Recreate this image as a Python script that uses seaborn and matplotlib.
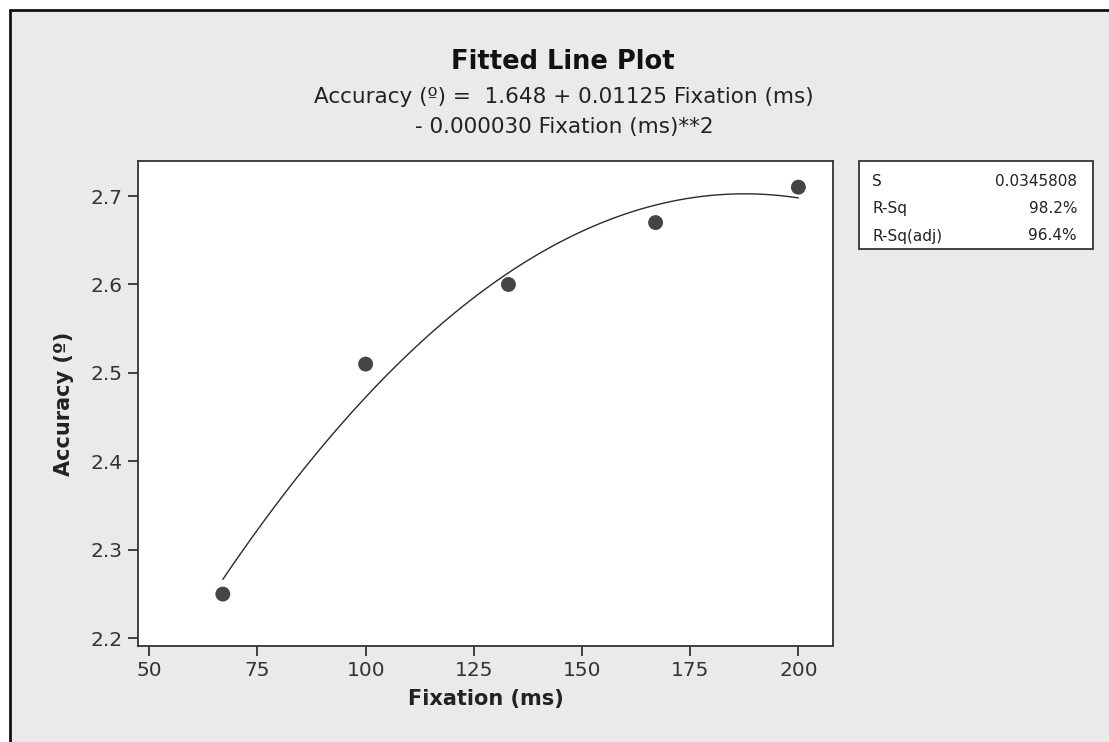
import numpy as np
import pandas as pd
import matplotlib
matplotlib.use("Agg")
import matplotlib.pyplot as plt
import seaborn as sns
from matplotlib.lines import Line2D
from matplotlib.patches import Rectangle

# --------------------------------------------------------------------
# Data
# --------------------------------------------------------------------
fixation_ms = [67, 100, 133, 167, 200]
accuracy_deg = [2.25, 2.51, 2.60, 2.67, 2.71]

x_ticks = [50, 75, 100, 125, 150, 175, 200]
y_ticks = [2.2, 2.3, 2.4, 2.5, 2.6, 2.7]

stat_names = ["S", "R-Sq", "R-Sq(adj)"]
stat_values = ["0.0345808", "98.2%", "96.4%"]

title = "Fitted Line Plot"
eq_line1 = "Accuracy (º) =  1.648 + 0.01125 Fixation (ms)"
eq_line2 = "- 0.000030 Fixation (ms)**2"

df = pd.DataFrame({"Fixation (ms)": fixation_ms, "Accuracy (º)": accuracy_deg})

# --------------------------------------------------------------------
# Figure
# --------------------------------------------------------------------
sns.set_theme(style="white")
plt.rcParams["font.family"] = ["DejaVu Sans"]

W, H = 1109, 742
BG = "#eaeaea"
fig = plt.figure(figsize=(W / 100, H / 100), dpi=100, facecolor=BG)

def fx(px):
    return px / W

def fy(py):
    return 1 - py / H

ax = fig.add_axes([fx(138), fy(646), fx(833) - fx(138), fy(161) - fy(646)])
ax.set_facecolor("white")

sns.regplot(data=df, x="Fixation (ms)", y="Accuracy (º)", order=2, ci=None,
            scatter=False, truncate=True, ax=ax,
            line_kws={"color": "#2a2a2a", "linewidth": 1.0})
sns.scatterplot(data=df, x="Fixation (ms)", y="Accuracy (º)", ax=ax,
                s=115, color="#454545", edgecolor="none", zorder=3)

ax.set_xlim(47.4, 208.0)
ax.set_ylim(2.1913, 2.7396)
ax.set_xticks(x_ticks)
ax.set_yticks(y_ticks)
ax.set_xticklabels([str(v) for v in x_ticks])
ax.set_yticklabels([f"{v:.1f}" for v in y_ticks])
ax.tick_params(axis="both", which="both", direction="out", length=7, width=1.3,
               color="#333333", labelcolor="#333333", labelsize=14.5,
               bottom=True, left=True, top=False, right=False, pad=4)
for sp in ax.spines.values():
    sp.set_color("#333333")
    sp.set_linewidth(1.3)

ax.set_xlabel("Fixation (ms)", fontsize=15, fontweight="bold", color="#222222",
              labelpad=6)
ax.set_ylabel("Accuracy (º)", fontsize=15, fontweight="bold", color="#222222",
              labelpad=12)

# titles
fig.text(fx(563), fy(62), title, ha="center", va="center",
         fontsize=18.5, fontweight="bold", color="#111111")
fig.text(fx(564), fy(97), eq_line1, ha="center", va="center",
         fontsize=15.5, color="#222222")
fig.text(fx(564), fy(127), eq_line2, ha="center", va="center",
         fontsize=15.5, color="#222222")

# stats box
fig.add_artist(Rectangle((fx(859), fy(249)), fx(1093) - fx(859), fy(161) - fy(249),
                         transform=fig.transFigure, facecolor="white",
                         edgecolor="#333333", linewidth=1.3))
for i, (name, val) in enumerate(zip(stat_names, stat_values)):
    ypos = fy(181 + i * 27.5)
    fig.text(fx(872), ypos, name, ha="left", va="center", fontsize=11,
             color="#222222")
    fig.text(fx(1077), ypos, val, ha="right", va="center", fontsize=11,
             color="#222222")

# outer frame (left and top edges)
fig.patches.append(Rectangle((0, 0), 1, 1, transform=fig.transFigure,
                             facecolor="white", edgecolor="none", zorder=-10))
fig.add_artist(Rectangle((fx(10), 0), 1 - fx(10), fy(10), transform=fig.transFigure,
                         facecolor=BG, edgecolor="none", zorder=-5))
fig.add_artist(Line2D([fx(10), fx(10)], [fy(10), 0], transform=fig.transFigure,
                      color="#111111", linewidth=2))
fig.add_artist(Line2D([fx(10), 1], [fy(10), fy(10)], transform=fig.transFigure,
                      color="#111111", linewidth=2))

fig.savefig("out.png", dpi=100, facecolor="white")
